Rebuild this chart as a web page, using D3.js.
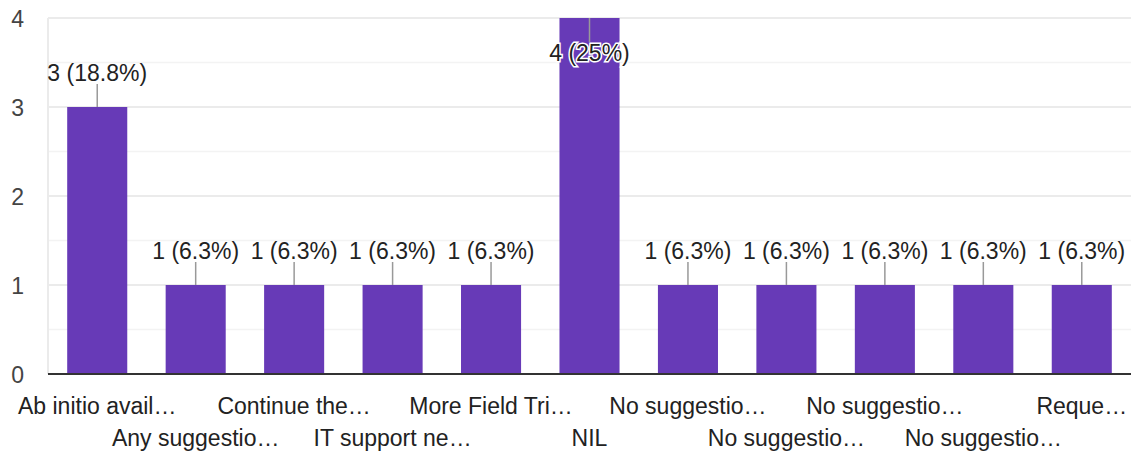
<!DOCTYPE html>
<html>
<head>
<meta charset="utf-8">
<script src="https://cdn.jsdelivr.net/npm/d3@7/dist/d3.min.js"></script>
<style>
  html, body { margin: 0; padding: 0; background: #fff; }
  svg { display: block; font-family: Arial, "Liberation Sans", sans-serif; }
</style>
</head>
<body>
<svg id="chart" width="1135" height="452"></svg>
<script>
const categories = ["Ab initio avail…", "Any suggestio…", "Continue the…", "IT support ne…", "More Field Tri…", "NIL", "No suggestio…", "No suggestio…", "No suggestio…", "No suggestio…", "Reque…"];
const values = [3, 1, 1, 1, 1, 4, 1, 1, 1, 1, 1];
const percents = ["18.8%", "6.3%", "6.3%", "6.3%", "6.3%", "25%", "6.3%", "6.3%", "6.3%", "6.3%", "6.3%"];
const yTicks = [0, 1, 2, 3, 4];
const yMinor = [0.5, 1.5, 2.5, 3.5];

const W = 1135, H = 452;
const m = { left: 48, right: 4, top: 18, bottom: 78 };
const svg = d3.select("#chart");
const fs = 23;

const x = d3.scaleBand().domain(d3.range(categories.length)).range([m.left, W - m.right]).paddingInner(0.39).paddingOuter(0.195);
const y = d3.scaleLinear().domain([0, 4]).range([H - m.bottom, m.top]);

// minor gridlines
svg.append("g").selectAll("line").data(yMinor).join("line")
  .attr("x1", m.left).attr("x2", W - m.right)
  .attr("y1", d => y(d)).attr("y2", d => y(d))
  .attr("stroke", "#f3f3f3").attr("stroke-width", 1.5);
// major gridlines
svg.append("g").selectAll("line").data(yTicks.filter(d => d > 0)).join("line")
  .attr("x1", m.left).attr("x2", W - m.right)
  .attr("y1", d => y(d)).attr("y2", d => y(d))
  .attr("stroke", "#ebebeb").attr("stroke-width", 2);
// left vertical
svg.append("line").attr("x1", m.left).attr("x2", m.left)
  .attr("y1", y(4)).attr("y2", y(0)).attr("stroke", "#ebebeb").attr("stroke-width", 2);

// y axis
const yAxis = svg.append("g").attr("transform", `translate(24,0)`)
  .call(d3.axisLeft(y).tickValues(yTicks).tickSize(0).tickPadding(0).tickFormat(d3.format("d")));
yAxis.select(".domain").remove();
yAxis.selectAll("text").attr("font-size", fs).attr("fill", "#444").attr("font-family", "Arial, 'Liberation Sans', sans-serif").attr("dy", "0.35em");

// bars
svg.append("g").selectAll("rect").data(values).join("rect")
  .attr("x", (d, i) => x(i)).attr("width", x.bandwidth())
  .attr("y", d => y(d)).attr("height", d => y(0) - y(d))
  .attr("fill", "#673ab7");

// baseline
svg.append("line").attr("x1", m.left).attr("x2", W - m.right)
  .attr("y1", y(0)).attr("y2", y(0)).attr("stroke", "#333").attr("stroke-width", 2);

// annotations
const ann = svg.append("g");
values.forEach((v, i) => {
  const cx = x(i) + x.bandwidth() / 2;
  const top = y(v);
  const inside = top - 45 < 0;
  const label = `${v} (${percents[i]})`;
  if (!inside) {
    ann.append("line").attr("x1", cx).attr("x2", cx).attr("y1", top).attr("y2", top - 23)
      .attr("stroke", "#999").attr("stroke-width", 1.5);
    ann.append("text").attr("x", cx).attr("y", top - 26).attr("text-anchor", "middle")
      .attr("font-size", fs).attr("fill", "#222").text(label);
  } else {
    ann.append("line").attr("x1", cx).attr("x2", cx).attr("y1", top).attr("y2", top + 24)
      .attr("stroke", "#999").attr("stroke-width", 1.5);
    ann.append("text").attr("x", cx).attr("y", top + 43).attr("text-anchor", "middle")
      .attr("font-size", fs).attr("fill", "#222")
      .attr("stroke", "#fff").attr("stroke-width", 3).attr("paint-order", "stroke")
      .text(label);
  }
});

// x labels (staggered)
const xAxis = svg.append("g").attr("transform", `translate(0,${y(0)})`)
  .call(d3.axisBottom(x).tickSize(0).tickFormat(i => categories[i]));
xAxis.select(".domain").remove();
xAxis.selectAll("text").attr("font-size", fs).attr("fill", "#222")
  .attr("font-family", "Arial, 'Liberation Sans', sans-serif")
  .attr("dy", null)
  .attr("y", (d, i) => (i % 2 === 0 ? 40 : 72));
</script>
</body>
</html>
